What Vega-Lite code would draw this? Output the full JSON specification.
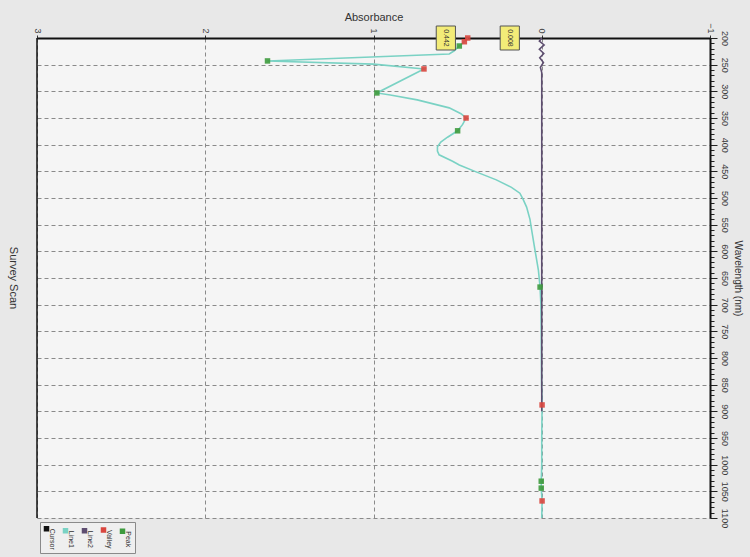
{
  "$schema": "https://vega.github.io/schema/vega-lite/v6.json",
  "autosize": {"type": "none"},
  "padding": {"left": 37, "top": 38, "right": 40, "bottom": 39},
  "width": 673,
  "height": 480,
  "background": "#e8e8e8",
  "config": {
    "font": "Liberation Sans",
    "view": {"stroke": null, "fill": "#f5f5f5"}
  },
  "title": {"text": "Survey Scan", "orient": "left", "angle": 90, "fontSize": 11, "fontWeight": "normal", "color": "#333333", "offset": 2},
  "datasets": {
    "spectrum": [
      {"nm": 200, "abs": 0.44}, {"nm": 207, "abs": 0.46}, {"nm": 215, "abs": 0.49}, {"nm": 224, "abs": 0.52},
      {"nm": 230, "abs": 0.55}, {"nm": 243, "abs": 1.63}, {"nm": 249, "abs": 1.0}, {"nm": 258, "abs": 0.7},
      {"nm": 303, "abs": 0.98}, {"nm": 307, "abs": 0.9}, {"nm": 316, "abs": 0.74}, {"nm": 331, "abs": 0.55},
      {"nm": 342, "abs": 0.48}, {"nm": 350, "abs": 0.45}, {"nm": 362, "abs": 0.47}, {"nm": 374, "abs": 0.5},
      {"nm": 386, "abs": 0.56}, {"nm": 395, "abs": 0.6}, {"nm": 404, "abs": 0.62}, {"nm": 412, "abs": 0.62},
      {"nm": 419, "abs": 0.61}, {"nm": 431, "abs": 0.53}, {"nm": 438, "abs": 0.49}, {"nm": 451, "abs": 0.39},
      {"nm": 466, "abs": 0.27}, {"nm": 480, "abs": 0.18}, {"nm": 491, "abs": 0.13}, {"nm": 503, "abs": 0.11},
      {"nm": 517, "abs": 0.09}, {"nm": 540, "abs": 0.07}, {"nm": 560, "abs": 0.06}, {"nm": 598, "abs": 0.04},
      {"nm": 635, "abs": 0.02}, {"nm": 667, "abs": 0.01}, {"nm": 700, "abs": 0.005}, {"nm": 750, "abs": 0.003},
      {"nm": 800, "abs": 0.002}, {"nm": 850, "abs": 0.001}, {"nm": 888, "abs": -0.002}, {"nm": 950, "abs": 0.0},
      {"nm": 1000, "abs": 0.0}, {"nm": 1031, "abs": 0.003}, {"nm": 1044, "abs": 0.003}, {"nm": 1068, "abs": -0.002},
      {"nm": 1100, "abs": 0.0}
    ],
    "baseline": [
      {"nm": 200, "abs": 0.0}, {"nm": 206, "abs": 0.014}, {"nm": 213, "abs": -0.014}, {"nm": 221, "abs": 0.014},
      {"nm": 229, "abs": -0.012}, {"nm": 237, "abs": 0.012}, {"nm": 246, "abs": -0.01}, {"nm": 255, "abs": 0.008},
      {"nm": 265, "abs": 0.0}, {"nm": 900, "abs": 0.0}
    ],
    "picks": [
      {"nm": 200, "abs": 0.44, "kind": "Valley"}, {"nm": 207, "abs": 0.46, "kind": "Valley"},
      {"nm": 215, "abs": 0.49, "kind": "Peak"}, {"nm": 243, "abs": 1.63, "kind": "Peak"},
      {"nm": 258, "abs": 0.7, "kind": "Valley"}, {"nm": 303, "abs": 0.98, "kind": "Peak"},
      {"nm": 350, "abs": 0.45, "kind": "Valley"}, {"nm": 374, "abs": 0.5, "kind": "Peak"},
      {"nm": 667, "abs": 0.01, "kind": "Peak"}, {"nm": 888, "abs": -0.002, "kind": "Valley"},
      {"nm": 1031, "abs": 0.003, "kind": "Peak"}, {"nm": 1044, "abs": 0.003, "kind": "Peak"},
      {"nm": 1068, "abs": -0.002, "kind": "Valley"}
    ],
    "cursor": [
      {"nm": 200, "abs": 0.57, "label": "0.442"},
      {"nm": 200, "abs": 0.19, "label": "0.008"}
    ]
  },
  "layer": [
    {
      "encoding": {
        "x": {
          "field": "abs", "type": "quantitative", "title": "Absorbance",
          "scale": {"domain": [-1, 3], "reverse": true, "nice": false, "zero": false},
          "axis": {
            "orient": "top", "values": [-1, 0, 1, 2, 3], "format": "d", "labelAngle": 90, "labelFontSize": 9,
            "labelColor": "#444444", "labelPadding": 2, "tickSize": 3, "tickColor": "#333333",
            "domainColor": "#111111", "domainWidth": 2, "grid": true, "gridDash": [4, 3],
            "gridColor": "#8a8a8a", "gridWidth": 1, "titleFontSize": 11, "titleFontWeight": "normal",
            "titleColor": "#333333", "titlePadding": 0
          }
        },
        "y": {
          "field": "nm", "type": "quantitative", "title": "Wavelength (nm)",
          "scale": {"domain": [200, 1100], "reverse": true, "nice": false, "zero": false},
          "axis": {
            "orient": "right",
            "values": [200, 210, 220, 230, 240, 250, 260, 270, 280, 290, 300, 310, 320, 330, 340, 350, 360, 370, 380, 390, 400, 410, 420, 430, 440, 450, 460, 470, 480, 490, 500, 510, 520, 530, 540, 550, 560, 570, 580, 590, 600, 610, 620, 630, 640, 650, 660, 670, 680, 690, 700, 710, 720, 730, 740, 750, 760, 770, 780, 790, 800, 810, 820, 830, 840, 850, 860, 870, 880, 890, 900, 910, 920, 930, 940, 950, 960, 970, 980, 990, 1000, 1010, 1020, 1030, 1040, 1050, 1060, 1070, 1080, 1090, 1100],
            "format": "d",
            "labelExpr": "datum.value % 50 === 0 ? datum.label : ''",
            "labelOverlap": false, "labelAngle": 90, "labelFontSize": 9, "labelColor": "#3a3a3a", "labelPadding": 2,
            "tickSize": {"condition": {"test": "datum.value % 50 === 0", "value": 7}, "value": 4},
            "tickColor": "#222222",
            "grid": true,
            "gridOpacity": {"condition": {"test": "datum.value % 50 === 0", "value": 1}, "value": 0},
            "gridDash": [4, 3], "gridColor": "#8a8a8a",
            "domainColor": "#111111", "domainWidth": 2,
            "titleFontSize": 10, "titleFontWeight": "normal", "titleColor": "#333333"
          }
        }
      },
      "layer": [
        {
          "data": {"name": "spectrum"},
          "mark": {"type": "line", "strokeWidth": 1.6},
          "encoding": {
            "order": {"field": "nm", "type": "quantitative"},
            "color": {
              "datum": "Line1", "type": "nominal", "title": null,
              "scale": {"domain": ["Cursor", "Line1", "Line2", "Valley", "Peak"], "range": ["#111111", "#7ad2c4", "#5e4e70", "#d9463e", "#3e9b3e"]},
              "legend": {
                "orient": "none", "legendX": 3, "legendY": 484, "direction": "horizontal", "title": null,
                "symbolType": "square", "symbolSize": 16, "labelFontSize": 7, "labelColor": "#333333",
                "labelOffset": 2, "fillColor": "#efefef", "strokeColor": "#8a8a8a", "padding": 3, "columnPadding": 3,
                "encode": {"labels": {"update": {"angle": {"value": 90}, "align": {"value": "left"}, "baseline": {"value": "middle"}}}}
              }
            }
          }
        },
        {
          "data": {"name": "baseline"},
          "mark": {"type": "line", "strokeWidth": 1.6},
          "encoding": {
            "order": {"field": "nm", "type": "quantitative"},
            "color": {"datum": "Line2", "type": "nominal", "title": null}
          }
        },
        {
          "data": {"name": "picks"},
          "mark": {"type": "point", "shape": "square", "filled": true, "size": 30, "opacity": 0.9},
          "encoding": {
            "color": {"field": "kind", "type": "nominal", "title": null}
          }
        },
        {
          "data": {"name": "cursor"},
          "mark": {"type": "point", "shape": "M-0.8,-1L0.8,-1L0.8,1L-0.8,1Z", "size": 576, "filled": true, "fill": "#f3ec78", "stroke": "#555555", "strokeWidth": 1, "opacity": 1}
        },
        {
          "data": {"name": "cursor"},
          "mark": {"type": "text", "angle": 90, "fontSize": 7, "color": "#333333", "align": "center", "baseline": "middle"},
          "encoding": {
            "text": {"field": "label"}
          }
        }
      ]
    },
    {
      "data": {"values": [{}]},
      "mark": {"type": "rule", "color": "#111111", "strokeWidth": 1.5},
      "encoding": {
        "x": {
          "datum": 3, "type": "quantitative", "title": "Absorbance",
          "scale": {"domain": [-1, 3], "reverse": true, "nice": false, "zero": false},
          "axis": {
            "orient": "top", "values": [-1, 0, 1, 2, 3], "format": "d", "labelAngle": 90, "labelFontSize": 9,
            "labelColor": "#444444", "labelPadding": 2, "tickSize": 3, "tickColor": "#333333",
            "domainColor": "#111111", "domainWidth": 2, "grid": true, "gridDash": [4, 3],
            "gridColor": "#8a8a8a", "gridWidth": 1, "titleFontSize": 11, "titleFontWeight": "normal",
            "titleColor": "#333333", "titlePadding": 0
          }
        }
      }
    }
  ]
}
